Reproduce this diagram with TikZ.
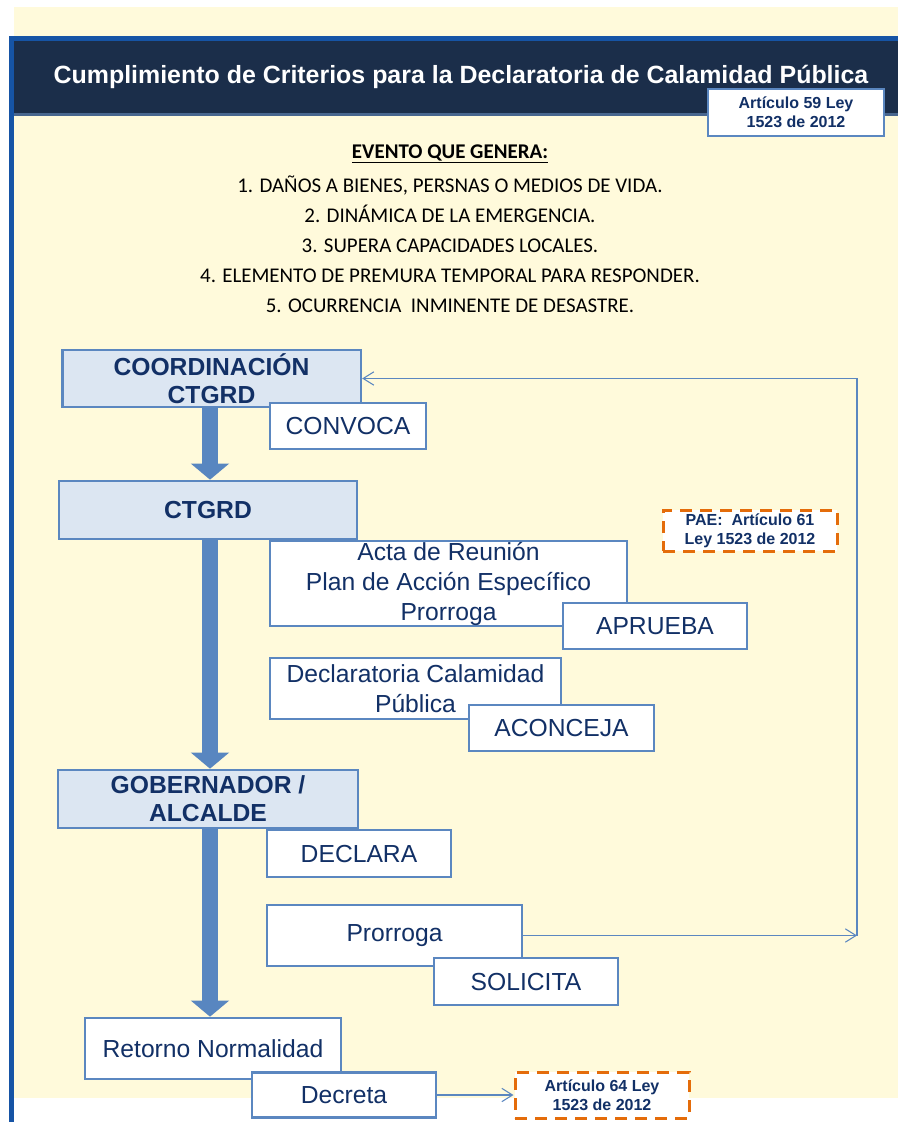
\documentclass[tikz,border=0pt]{standalone}
\usepackage{fontspec}
\setmainfont{Liberation Sans}
\newfontfamily\calibri{Carlito}
\usetikzlibrary{arrows.meta}

\definecolor{cream}{RGB}{255,250,219}
\definecolor{frameblue}{RGB}{22,84,165}
\definecolor{titlenavy}{RGB}{27,46,74}
\definecolor{titleline}{RGB}{72,102,142}
\definecolor{boxline}{RGB}{91,135,192}
\definecolor{boxfill}{RGB}{220,230,242}
\definecolor{textnavy}{RGB}{18,48,102}
\definecolor{dashorange}{RGB}{228,108,10}
\definecolor{arrowblue}{RGB}{88,134,192}

\begin{document}
\begin{tikzpicture}[
    x=0.75pt, y=-0.75pt,
    stage/.style={
        rectangle,
        draw=boxline,
        line width=2pt,
        fill=boxfill,
        text=textnavy,
        font=\fontsize{18.5}{21}\selectfont\bfseries,
        align=center,
        inner sep=0pt
    },
    act/.style={
        rectangle,
        draw=boxline,
        line width=2pt,
        fill=white,
        text=textnavy,
        font=\fontsize{18.5}{22.5}\selectfont,
        align=center,
        inner sep=0pt
    },
    law/.style={
        rectangle,
        draw=boxline,
        line width=1.5pt,
        fill=white,
        text=textnavy,
        font=\fontsize{12}{14.5}\selectfont\bfseries,
        align=center,
        inner sep=0pt
    },
    lawdash/.style={
        law,
        draw=dashorange,
        line width=2.25pt,
        dash pattern=on 9pt off 6pt
    },
    bigarrow/.style={
        draw=arrowblue,
        line width=12pt,
        -{Triangle[length=12pt,width=28pt]}
    },
    link/.style={
        draw=boxline,
        line width=0.8pt,
        -{Straight Barb[length=8pt,width=10pt]}
    }
]
\useasboundingbox (0,0) rectangle (898,1122);

% Background and title bar
\fill[cream] (14,7) rectangle (898,1098);
\fill[frameblue] (9,36) rectangle (898,41);
\fill[frameblue] (9,36) rectangle (14,1122);
\fill[titlenavy] (14,41) rectangle (898,113);
\fill[titleline] (14,113) rectangle (898,116);

\node[text=white, font=\fontsize{18.7}{22}\selectfont\bfseries] (title) at (461,77) {Cumplimiento de Criterios para la Declaratoria de Calamidad Pública};
\node[law, minimum width=132pt, minimum height=35.25pt] (art59) at (796,112) {Artículo 59 Ley\\1523 de 2012};

% Event criteria
\node[font=\calibri\fontsize{15.7}{22.5}\selectfont\bfseries] (evhead) at (450,154) {\underline{EVENTO QUE GENERA:}};
\node[font=\calibri\fontsize{15.7}{22.5}\selectfont, align=center] (evlist) at (450,244) {1. DAÑOS A BIENES, PERSNAS O MEDIOS DE VIDA.\\2. DINÁMICA DE LA EMERGENCIA.\\3. SUPERA CAPACIDADES LOCALES.\\4. ELEMENTO DE PREMURA TEMPORAL PARA RESPONDER.\\5. OCURRENCIA~ INMINENTE DE DESASTRE.};

% Main stages
\node[stage, minimum width=224pt, minimum height=42.75pt] (coord) at (211.5,378.5) {COORDINACIÓN\\CTGRD};
\node[stage, minimum width=223.5pt, minimum height=43.5pt] (ctgrd) at (208,510) {CTGRD};
\node[stage, minimum width=225pt, minimum height=43.5pt] (gober) at (208,799) {GOBERNADOR /\\ALCALDE};
\node[act, minimum width=192pt, minimum height=45.75pt] (retorno) at (213,1048.5) {Retorno Normalidad};

% Flow arrows
\coordinate (spine) at (210,0);
\draw[bigarrow] (coord.south -| spine) -- (ctgrd.north -| spine);
\draw[bigarrow] (ctgrd.south -| spine) -- (gober.north -| spine);
\draw[bigarrow] (gober.south -| spine) -- (retorno.north -| spine);

% Actions
\node[act, minimum width=117pt, minimum height=34.5pt] (convoca) at (348,426) {CONVOCA};
\node[act, minimum width=267.75pt, minimum height=63.75pt] (acta) at (448.5,583.5) {Acta de Reunión\\Plan de Acción Específico\\Prorroga};
\node[act, minimum width=138pt, minimum height=34.5pt] (aprueba) at (655,626) {APRUEBA};
\node[act, minimum width=218.25pt, minimum height=45.75pt] (decl) at (415.5,688.5) {Declaratoria Calamidad\\Pública};
\node[act, minimum width=138.75pt, minimum height=34.5pt] (aconceja) at (561.5,728) {ACONCEJA};
\node[act, minimum width=138pt, minimum height=35.25pt] (declara) at (359,853.5) {DECLARA};
\node[act, minimum width=191.25pt, minimum height=45.75pt] (prorroga) at (394.5,935.5) {Prorroga};
\node[act, minimum width=138pt, minimum height=35.25pt] (solicita) at (526,981.5) {SOLICITA};
\node[act, minimum width=138pt, minimum height=33.75pt] (decreta) at (344,1095) {Decreta};

% Legal references
\node[lawdash, minimum width=130.5pt, minimum height=30.75pt] (pae) at (750,530.5) {PAE:~ Artículo 61\\Ley 1523 de 2012};
\node[lawdash, minimum width=130.5pt, minimum height=34.5pt] (art64) at (602,1095) {Artículo 64 Ley\\1523 de 2012};

% Connectors
\coordinate (turn) at (857,935.5);
\draw[link] (prorroga.east) -- (turn);
\draw[link] (turn) |- (coord.east);
\draw[link] (decreta.east) -- (art64.west);

\end{tikzpicture}
\end{document}
